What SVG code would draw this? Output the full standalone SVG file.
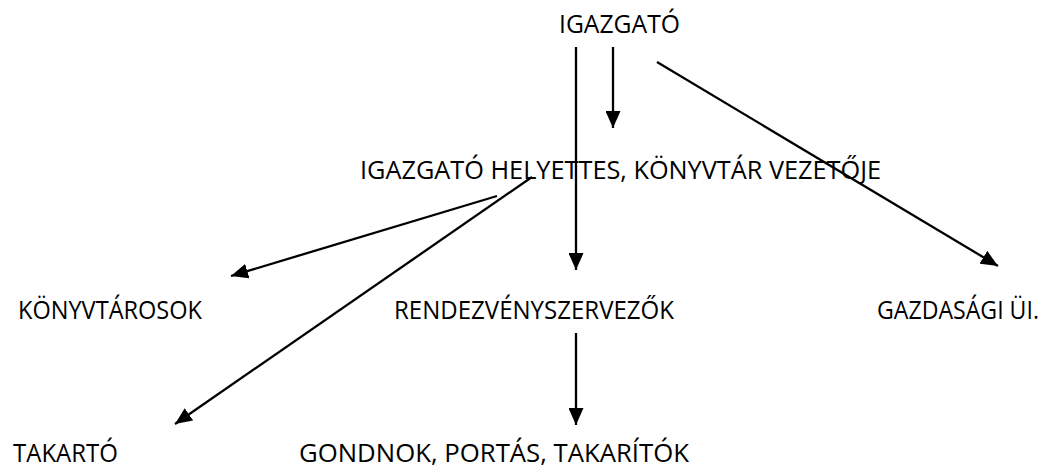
<svg xmlns="http://www.w3.org/2000/svg" width="1053" height="470" viewBox="0 0 1053 470">
<style>
text{font-family:"Open Sans","Liberation Sans",sans-serif;font-size:25px;fill:#000}
.c line{stroke:#000;stroke-width:2.3;fill:none;marker-end:url(#ah)}
</style>
<defs>
<marker id="ah" markerUnits="userSpaceOnUse" markerWidth="17" markerHeight="15" refX="17" refY="7.5" orient="auto">
<path d="M0,0 L17,7.5 L0,15 Z" fill="#000"/>
</marker>
</defs>
<rect width="1053" height="470" fill="#fff"/>
<g id="n-igazgato"><text x="559" y="33" textLength="121" lengthAdjust="spacingAndGlyphs">IGAZGATÓ</text></g>
<g id="n-helyettes"><text x="360" y="179" textLength="521" lengthAdjust="spacingAndGlyphs">IGAZGATÓ HELYETTES, KÖNYVTÁR VEZETŐJE</text></g>
<g id="n-konyvtarosok"><text x="18" y="319" textLength="184" lengthAdjust="spacingAndGlyphs">KÖNYVTÁROSOK</text></g>
<g id="n-rendezveny"><text x="394" y="319" textLength="280" lengthAdjust="spacingAndGlyphs">RENDEZVÉNYSZERVEZŐK</text></g>
<g id="n-gazdasagi"><text x="877" y="319" textLength="162" lengthAdjust="spacingAndGlyphs">GAZDASÁGI ÜI.</text></g>
<g id="n-takarto"><text x="13" y="462" textLength="105" lengthAdjust="spacingAndGlyphs">TAKARTÓ</text></g>
<g id="n-gondnok"><text x="299" y="462" textLength="390" lengthAdjust="spacingAndGlyphs">GONDNOK, PORTÁS, TAKARÍTÓK</text></g>
<g id="connectors" class="c">
<line x1="576" y1="47" x2="576" y2="270"/>
<line x1="613" y1="47" x2="613" y2="128"/>
<line x1="657" y1="62" x2="998" y2="266"/>
<line x1="497" y1="196" x2="231" y2="276"/>
<line x1="532" y1="177" x2="175" y2="424"/>
<line x1="576" y1="333" x2="576" y2="425"/>
</g>
</svg>
